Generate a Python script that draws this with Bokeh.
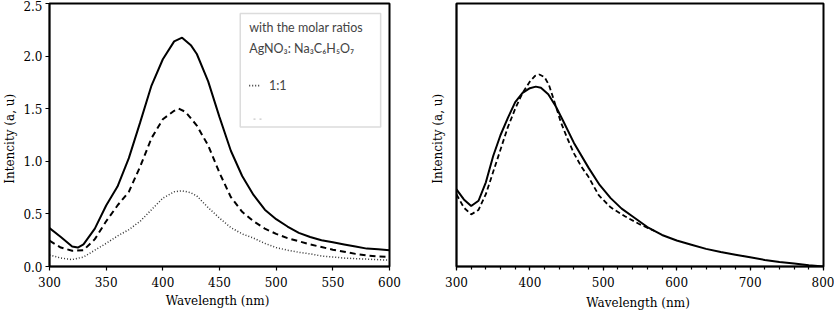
from bokeh.plotting import figure
from bokeh.layouts import row
from bokeh.models import Range1d, SingleIntervalTicker, Label, BoxAnnotation, NumeralTickFormatter, Title
from bokeh.embed import file_html
from bokeh.resources import INLINE

# ---------------- data: panel a ----------------
wl_a_solid = [300, 310, 320, 325, 330, 340, 350, 360, 370, 380, 390, 400, 410, 417, 425, 430, 440, 450, 460,
              470, 480, 490, 500, 510, 520, 530, 540, 550, 560, 570, 580, 590, 600]
int_a_solid = [0.365, 0.28, 0.19, 0.18, 0.21, 0.36, 0.58, 0.76, 1.03, 1.37, 1.72, 1.97, 2.14, 2.175, 2.10, 2.02,
               1.76, 1.42, 1.10, 0.86, 0.68, 0.54, 0.45, 0.38, 0.32, 0.28, 0.25, 0.23, 0.21, 0.19, 0.17, 0.165, 0.155]

wl_a_dash = [300, 310, 320, 330, 340, 350, 360, 370, 380, 390, 400, 410, 414, 420, 430, 440, 450, 460, 470,
             480, 490, 500, 510, 520, 530, 540, 550, 560, 570, 580, 590, 600]
int_a_dash = [0.245, 0.18, 0.15, 0.155, 0.26, 0.43, 0.58, 0.71, 0.95, 1.22, 1.40, 1.48, 1.50, 1.47, 1.34, 1.15,
              0.89, 0.66, 0.52, 0.43, 0.36, 0.31, 0.27, 0.24, 0.21, 0.185, 0.16, 0.14, 0.12, 0.105, 0.095, 0.09]

wl_a_dot = [300, 310, 320, 330, 340, 350, 360, 370, 380, 390, 400, 410, 417, 425, 430, 440, 450, 460, 470,
            480, 490, 500, 510, 520, 530, 540, 550, 560, 570, 580, 590, 600]
int_a_dot = [0.11, 0.08, 0.066, 0.09, 0.155, 0.22, 0.29, 0.35, 0.43, 0.54, 0.65, 0.71, 0.72, 0.70, 0.67, 0.56,
             0.46, 0.37, 0.31, 0.27, 0.22, 0.18, 0.155, 0.135, 0.12, 0.10, 0.09, 0.08, 0.075, 0.07, 0.065, 0.06]

# ---------------- data: panel b ----------------
wl_b_solid = [300, 310, 320, 330, 340, 350, 360, 370, 380, 390, 400, 408, 415, 425, 435, 445, 460, 480, 495,
              510, 525, 540, 560, 580, 600, 620, 640, 660, 680, 700, 720, 740, 760, 780, 800]
int_b_solid = [0.293, 0.255, 0.23, 0.25, 0.32, 0.42, 0.50, 0.565, 0.625, 0.66, 0.678, 0.684, 0.68, 0.655, 0.61,
               0.555, 0.47, 0.375, 0.31, 0.26, 0.22, 0.19, 0.15, 0.12, 0.099, 0.083, 0.067, 0.055,
               0.045, 0.035, 0.025, 0.017, 0.011, 0.005, 0.0]

wl_b_dash = [300, 310, 320, 330, 340, 350, 360, 370, 380, 390, 400, 407, 413, 420, 426, 433, 442, 451, 460,
             470, 480, 494, 510, 530, 550, 570]
int_b_dash = [0.274, 0.224, 0.198, 0.215, 0.275, 0.36, 0.445, 0.53, 0.60, 0.66, 0.703, 0.725, 0.73, 0.72, 0.69,
              0.63, 0.55, 0.487, 0.43, 0.38, 0.34, 0.27, 0.225, 0.19, 0.16, 0.135]

xticks_a = [300, 350, 400, 450, 500, 550, 600]
yticks_a = [0.0, 0.5, 1.0, 1.5, 2.0, 2.5]

SERIF = "DejaVu Serif"
SANS = "Lato"


def style(p, label_size):
    p.outline_line_color = "black"
    p.outline_line_width = 2
    p.grid.visible = False
    p.background_fill_color = "white"
    p.border_fill_color = "white"
    for ax in p.axis:
        ax.axis_line_color = "black"
        ax.axis_line_width = 1.5
        ax.major_tick_line_color = "black"
        ax.major_tick_line_width = 1.2
        ax.minor_tick_line_color = "black"
        ax.minor_tick_line_width = 1.2
        ax.major_tick_in = 0
        ax.minor_tick_in = 0
        ax.major_label_text_font = SERIF
        ax.major_label_text_font_size = label_size
        ax.major_label_text_color = "black"
        ax.axis_label_text_font = SERIF
        ax.axis_label_text_font_size = label_size
        ax.axis_label_text_font_style = "normal"
        ax.axis_label_text_color = "black"


# ---------------- panel a ----------------
pa = figure(width=420, height=312, output_backend="svg", toolbar_location=None,
            x_range=Range1d(300, 600), y_range=Range1d(0, 2.5),
            min_border_left=45, min_border_right=31, min_border_top=2, min_border_bottom=46)
style(pa, "12px")
pa.xaxis.ticker = xticks_a
pa.yaxis.ticker = yticks_a
pa.yaxis.formatter = NumeralTickFormatter(format="0.0")
pa.xaxis.major_tick_out = 4
pa.yaxis.major_tick_out = 4
pa.xaxis.major_label_standoff = 6
pa.yaxis.major_label_standoff = 3
pa.xaxis.axis_label = "Wavelength  (nm)"
pa.yaxis.axis_label = "Intencity  (a,  u)"
pa.xaxis.axis_label_standoff = 4
pa.yaxis.axis_label_standoff = 3

pa.line(wl_a_solid, int_a_solid, line_color="black", line_width=2)
pa.line(wl_a_dash, int_a_dash, line_color="black", line_width=2, line_dash="6 4")
pa.line(wl_a_dot, int_a_dot, line_color="#333333", line_width=1.5, line_dash="1 2")

# legend box
pa.add_layout(BoxAnnotation(left=468.3, right=592.2, bottom=1.326, top=2.404, level="underlay",
                            fill_color="white", fill_alpha=1, line_color="#8a8a8a", line_width=1.5))
legend_txt = dict(text_font=SANS, text_font_size="12.5px", text_color="#444444", text_baseline="middle")
pa.add_layout(Label(x=476.2, y=2.27, text="with the molar ratios", **legend_txt))
pa.add_layout(Label(x=476.2, y=2.07, text="AgNO₃: Na₃C₆H₅O₇", **legend_txt))
pa.add_layout(Label(x=493.6, y=1.72, text="1:1", **legend_txt))
pa.line([476.2, 485.8], [1.72, 1.72], line_color="#333333", line_width=1.8, line_dash="1 2")
pa.line([480.0, 490.0], [1.40, 1.40], line_color="#c8c8c8", line_width=1.2, line_dash="2 4")

pa.add_layout(Title(text="a", align="left", offset=-42, standoff=-33, text_font=SANS,
                    text_font_size="13px", text_font_style="normal", text_color="black"), "below")

# ---------------- panel b ----------------
pb = figure(width=414, height=312, output_backend="svg", toolbar_location=None,
            x_range=Range1d(300, 800), y_range=Range1d(0, 1),
            min_border_left=36, min_border_right=11, min_border_top=3, min_border_bottom=44)
style(pb, "12px")
pb.xaxis.ticker = SingleIntervalTicker(interval=100, num_minor_ticks=5)
pb.xaxis.major_tick_out = 4
pb.xaxis.minor_tick_out = 3
pb.xaxis.major_label_standoff = 6
pb.xaxis.axis_label = "Wavelength  (nm)"
pb.xaxis.axis_label_standoff = 6
pb.yaxis.ticker = []
pb.yaxis.major_tick_out = 0
pb.yaxis.minor_tick_out = 0
pb.yaxis.axis_label = "Intencity  (a,  u)"
pb.yaxis.axis_label_standoff = 12

pb.line(wl_b_solid, int_b_solid, line_color="black", line_width=2)
pb.line(wl_b_dash, int_b_dash, line_color="black", line_width=1.8, line_dash="5 3")

layout = row(pa, pb)
open("out.html", "w").write(file_html(layout, INLINE))
